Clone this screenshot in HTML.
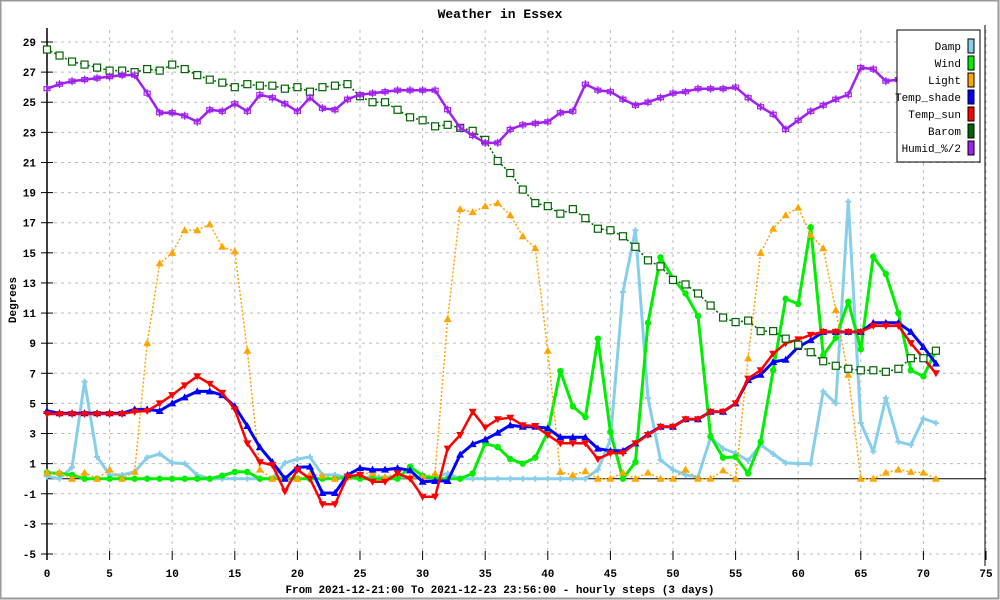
<!DOCTYPE html>
<html><head><meta charset="utf-8"><style>
html,body{margin:0;padding:0;background:#fff}
svg{display:block;font-family:"Liberation Mono",monospace}
</style></head><body>
<svg id="chart" width="1000" height="600" viewBox="0 0 1000 600" xmlns="http://www.w3.org/2000/svg">
<rect x="0.5" y="0.5" width="998" height="598" fill="#fff" stroke="#999" stroke-width="2"/>
<text x="500" y="18" text-anchor="middle" font-size="13" font-weight="bold">Weather in Essex</text>
<text x="500" y="593" text-anchor="middle" font-size="11" font-weight="bold">From 2021-12-21:00 To 2021-12-23 23:56:00 - hourly steps (3 days)</text>
<text x="16" y="300" text-anchor="middle" font-size="11" font-weight="bold" transform="rotate(-90 16 300)">Degrees</text>
<g id="grid"></g>
<g id="axes"></g>
<g id="series"></g>
<g id="legend"></g>
</svg>
<script>
const xTicks = [0,5,10,15,20,25,30,35,40,45,50,55,60,65,70,75];
const yTicks = [-5,-3,-1,1,3,5,7,9,11,13,15,17,19,21,23,25,27,29];
const damp = [0.15,0,0.75,6.45,1.45,0.25,0.25,0.45,1.4,1.65,1.05,1.0,0.25,0,0,0,0,0,0,1.05,1.3,1.45,0.25,0.25,0.1,0.1,0.1,0.1,0.1,0.1,0.1,0.1,0.35,0,0,0,0,0,0,0,0,0,0,0,0.6,2.6,12.4,16.5,5.35,1.25,0.6,0.25,0.1,2.75,2.0,1.7,1.2,2.25,1.65,1.05,1.0,1.0,5.8,5.0,18.4,3.7,1.8,5.35,2.45,2.25,4.0,3.7];
const wind = [0.4,0.35,0.25,0,0,0,0,0,0,0,0,0,0,0,0.2,0.45,0.45,0,0,0,0,0,0,0,0.1,0,0,0,0,0.8,0.2,0,0,0,0.35,2.35,2.1,1.3,1.0,1.4,3.1,7.15,4.8,4.1,9.3,3.1,0,1.1,10.35,14.7,13.3,12.3,10.8,2.8,1.4,1.45,0.35,2.45,7.2,11.95,11.6,16.7,8.2,9.35,11.75,8.6,14.75,13.6,11.0,7.2,6.8,8.5];
const light = [0.4,0.4,0,0.4,0,0.6,0,0.45,9.0,14.3,15.0,16.5,16.5,16.9,15.4,15.1,8.5,0.6,0,0,0,0.3,0.2,0,0.1,0.35,0.35,0.1,0.35,0.1,0.1,0.35,10.6,17.9,17.7,18.1,18.3,17.5,16.1,15.3,8.5,0.45,0.25,0.5,0,0,0.4,0,0.4,0,0,0.6,0,0,0.55,0,8.0,15.0,16.6,17.5,18.0,16.2,15.3,11.2,6.9,0,0,0.4,0.6,0.45,0.4,0];
const tempShade = [4.5,4.35,4.35,4.35,4.35,4.35,4.35,4.6,4.6,4.5,5.0,5.4,5.8,5.8,5.55,4.8,3.5,2.1,1.1,0,0.75,0.8,-0.95,-0.95,0.25,0.7,0.6,0.6,0.7,0.55,-0.2,-0.15,-0.15,1.6,2.3,2.6,3.05,3.55,3.45,3.45,3.35,2.75,2.75,2.75,2.0,1.85,1.85,2.35,2.95,3.45,3.45,3.95,3.95,4.45,4.45,5.0,6.55,6.9,7.75,7.9,8.75,9.2,9.75,9.75,9.75,9.75,10.35,10.35,10.35,9.75,8.75,7.65];
const tempSun = [4.3,4.3,4.3,4.3,4.3,4.3,4.3,4.45,4.5,5.0,5.55,6.2,6.8,6.3,5.7,4.6,2.35,1.1,0.9,-0.85,0.6,0,-1.7,-1.7,0.15,0.25,-0.2,-0.2,0.35,0,-1.2,-1.2,2.0,2.9,4.45,3.4,3.95,4.05,3.55,3.5,2.9,2.35,2.35,2.35,1.3,1.7,1.7,2.35,2.9,3.45,3.45,3.95,3.95,4.45,4.45,5.0,6.65,7.2,8.3,9.0,9.25,9.55,9.75,9.75,9.75,9.75,10.15,10.15,10.15,9.0,8.0,7.0];
const barom = [28.5,28.1,27.7,27.5,27.3,27.1,27.1,27.0,27.2,27.1,27.5,27.2,26.8,26.5,26.3,26.0,26.2,26.1,26.1,25.9,26.0,25.7,26.0,26.1,26.2,25.4,25.0,25.0,24.5,24.0,23.8,23.4,23.5,23.3,23.1,22.5,21.1,20.3,19.2,18.3,18.1,17.6,17.9,17.3,16.6,16.5,16.1,15.4,14.5,14.1,13.2,12.9,12.3,11.5,10.7,10.4,10.5,9.8,9.8,9.3,8.9,8.4,7.8,7.5,7.3,7.2,7.2,7.1,7.3,8.0,8.0,8.5];
const humid = [25.9,26.2,26.4,26.5,26.6,26.7,26.8,26.8,25.6,24.3,24.3,24.1,23.7,24.5,24.4,24.9,24.4,25.5,25.3,24.9,24.4,25.3,24.6,24.5,25.2,25.5,25.6,25.7,25.8,25.8,25.8,25.8,24.5,23.3,22.8,22.3,22.3,23.2,23.5,23.6,23.7,24.3,24.4,26.2,25.8,25.7,25.2,24.8,25.0,25.3,25.6,25.7,25.9,25.9,25.9,26.0,25.3,24.7,24.2,23.2,23.8,24.4,24.8,25.2,25.5,27.3,27.2,26.4,26.5,26.5,26.4,26.3];
const seriesNames = ["Damp","Wind","Light","Temp_shade","Temp_sun","Barom","Humid_%/2"];

const NS="http://www.w3.org/2000/svg";
const X0=47,X1=986,Y0=554,Y1=42;
function sx(v){return X0+(v-0)/(75-0)*(X1-X0);}
function sy(v){return Y0-(v-(-5))/(29-(-5))*(Y0-Y1);}
function mk(tag,attrs,parent){const e=document.createElementNS(NS,tag);for(const k in attrs)e.setAttribute(k,attrs[k]);parent.appendChild(e);return e;}

const grid=document.getElementById('grid'),axes=document.getElementById('axes'),ser=document.getElementById('series'),leg=document.getElementById('legend');
yTicks.forEach(v=>{
  const g=mk('line',{x1:X0,x2:X1,y1:sy(v),y2:sy(v),stroke:'#bbb','stroke-dasharray':'3,4'},grid);
  
  
  const t=mk('line',{x1:X0-6,x2:X0+6,y1:sy(v),y2:sy(v),stroke:'#000'},axes);
  
  
  const l=mk('text',{x:X0-11,y:sy(v)+4,'text-anchor':'end','font-size':'11','font-weight':'bold'},axes);
  l.textContent=v;
  
  
});
xTicks.forEach(v=>{
  const g=mk('line',{x1:sx(v),x2:sx(v),y1:Y1-12,y2:Y0,stroke:'#bbb','stroke-dasharray':'3,4'},grid);
  
  
  const t=mk('line',{x1:sx(v),x2:sx(v),y1:Y0-3,y2:Y0+6,stroke:'#000'},axes);
  
  
  const l=mk('text',{x:sx(v),y:Y0+23,'text-anchor':'middle','font-size':'11','font-weight':'bold'},axes);
  l.textContent=v;
  
  
});
const ya=mk('line',{x1:X0,x2:X0,y1:28,y2:Y0+6,stroke:'#000','stroke-width':1.5},axes);


const ra=mk('line',{x1:X1-1,x2:X1-1,y1:25,y2:Y0+12,stroke:'#000','stroke-width':1},axes);


const zl=mk('line',{x1:X0,x2:X1,y1:sy(0),y2:sy(0),stroke:'#000','stroke-width':1},axes);



function marker(type,x,y,color,g){
  let e;
  if(type==='circle') e=mk('circle',{cx:x,cy:y,r:3.2,fill:color},g);
  else if(type==='up') e=mk('polygon',{points:`${x},${y-4} ${x-4},${y+3} ${x+4},${y+3}`,fill:color},g);
  else if(type==='down') e=mk('polygon',{points:`${x},${y+4} ${x-4},${y-3} ${x+4},${y-3}`,fill:color},g);
  else if(type==='square') e=mk('rect',{x:x-3.5,y:y-3.5,width:7,height:7,fill:'#fff',stroke:color,'stroke-width':1.2},g);
  else if(type==='cross') e=mk('path',{d:`M${x-3},${y}h6M${x},${y-3}v6`,stroke:color,'stroke-width':2},g);
  else if(type==='hcross') e=mk('path',{d:`M${x-3},${y-2}h6v4h-6zM${x},${y-4}v8`,stroke:color,'stroke-width':1.2,fill:'none'},g);
  return e;
}
const defs=[
  {name:'damp',data:damp,color:'#87ceeb',w:3,dash:null,m:'cross'},
  {name:'wind',data:wind,color:'#00ee00',w:3,dash:null,m:'circle'},
  {name:'light',data:light,color:'#ffa500',w:1.5,dash:'2,2',m:'up'},
  {name:'temp-shade',data:tempShade,color:'#0000ff',w:3,dash:null,m:'up'},
  {name:'temp-sun',data:tempSun,color:'#ff0000',w:2.5,dash:null,m:'down'},
  {name:'barom',data:barom,color:'#006400',w:1.5,dash:'2,2',m:'square'},
  {name:'humid',data:humid,color:'#a020f0',w:2.5,dash:null,m:'hcross'}
];
defs.forEach(d=>{
  const g=mk('g',{},ser);
  
  
  const pts=d.data.map((v,i)=>sx(i).toFixed(1)+','+sy(v).toFixed(1)).join(' ');
  const a={points:pts,fill:'none',stroke:d.color,'stroke-width':d.w,'stroke-linejoin':'round'};
  if(d.dash)a['stroke-dasharray']=d.dash;
  const pl=mk('polyline',a,g);
  
  
  d.data.forEach((v,i)=>{
    const m=marker(d.m,sx(i),sy(v),d.color,g);
    
    
  });
});
// legend
const lb=mk('rect',{x:897,y:30,width:83,height:132,fill:'#fff',stroke:'#000','stroke-width':1},leg);


const legColors=['#87ceeb','#00ee00','#ffa500','#0000ff','#ff0000','#006400','#a020f0'];
seriesNames.forEach((n,i)=>{
  const y=46+i*17;
  const t=mk('text',{x:961,y:y+4,'text-anchor':'end','font-size':'11'},leg);
  t.textContent=n;
  
  
  const s=mk('rect',{x:968,y:y-7,width:6,height:14,fill:legColors[i],stroke:'#000','stroke-width':1},leg);
  
  
});
</script>
</body></html>
